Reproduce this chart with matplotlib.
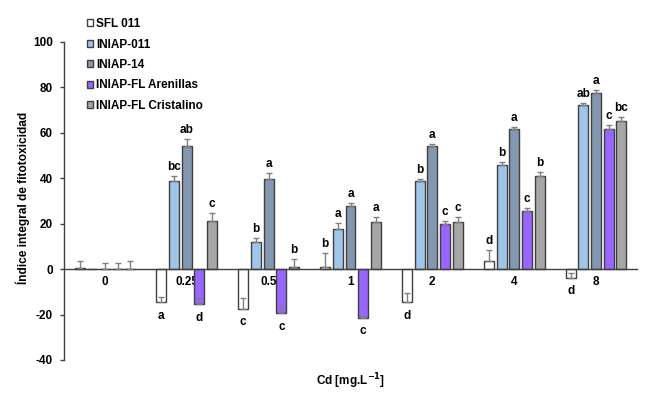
import matplotlib
matplotlib.use("Agg")
import matplotlib.pyplot as plt
import numpy as np

plt.rcParams['font.family'] = ['Liberation Sans', 'DejaVu Sans']
plt.rcParams['font.weight'] = 'bold'
plt.rcParams['axes.unicode_minus'] = False

categories = ["0", "0.25", "0.5", "1", "2", "4", "8"]
series = ["SFL 011", "INIAP-011", "INIAP-14", "INIAP-FL Arenillas", "INIAP-FL Cristalino"]

sfl = [0.5, -14.5, -17.5, 1.0, -14.5, 3.5, -3.7]
iniap011 = [0.0, 38.8, 11.8, 17.6, 38.8, 46.0, 72.3]
iniap14 = [0.0, 54.0, 39.5, 27.6, 54.3, 61.7, 77.5]
arenillas = [0.0, -15.5, -19.5, -21.3, 19.7, 25.8, 61.5]
cristalino = [0.0, 21.0, 0.8, 20.8, 20.8, 40.8, 65.0]

sfl_err = [3.0, 2.3, 5.0, 6.0, 4.0, 5.0, 2.0]
iniap011_err = [0.0, 2.0, 2.0, 2.5, 1.0, 1.0, 1.0]
iniap14_err = [2.5, 3.5, 3.0, 1.5, 1.0, 1.0, 1.5]
arenillas_err = [2.5, 2.8, 3.0, 0.5, 1.5, 1.0, 2.0]
cristalino_err = [3.5, 3.5, 3.5, 2.0, 2.0, 2.0, 2.0]

sfl_let = ["", "a", "c", "b", "d", "d", "d"]
iniap011_let = ["", "bc", "b", "a", "b", "b", "ab"]
iniap14_let = ["", "ab", "a", "a", "a", "a", "a"]
arenillas_let = ["", "d", "c", "c", "c", "c", "c"]
cristalino_let = ["", "c", "b", "a", "c", "b", "bc"]

colors = ["#ffffff", "#9fc5e8", "#8497b0", "#9966ff", "#a6a6a6"]

values = [sfl, iniap011, iniap14, arenillas, cristalino]
errors = [sfl_err, iniap011_err, iniap14_err, arenillas_err, cristalino_err]
letters = [sfl_let, iniap011_let, iniap14_let, arenillas_let, cristalino_let]

fig = plt.figure(figsize=(6.5, 3.93), dpi=100)
ax = fig.add_axes([64/650, 1-360/393, (637-64)/650, (360-42)/393])

x = np.arange(len(categories))
pitch = 0.155
width = 0.122
handles = []
for k, (vals, errs, lets, col, name) in enumerate(zip(values, errors, letters, colors, series)):
    pos = x + (k - 2) * pitch
    vals = np.array(vals)
    errs = np.array(errs)
    b = ax.bar(pos, vals, width, color=col, edgecolor="#404040", linewidth=1.0,
               label=name, zorder=2)
    handles.append(b)
    mask = errs > 0
    ax.errorbar(pos[mask], vals[mask], yerr=[np.zeros(mask.sum()), errs[mask]],
                fmt="none", ecolor="#808080", elinewidth=1.0, capsize=2.5,
                capthick=1.0, zorder=3)
    for p, v, e, t in zip(pos, vals, errs, lets):
        if not t:
            continue
        if v >= 0:
            ax.annotate(t, (p, v + e), xytext=(0, 3), textcoords="offset pixels",
                        ha="center", va="bottom", fontsize=8.5, fontweight="bold")
        else:
            ax.annotate(t, (p, v), xytext=(0, -13.5), textcoords="offset pixels",
                        ha="center", va="center", fontsize=8.5, fontweight="bold")

ax.set_xlim(-0.5, len(categories) - 0.5)
ax.set_ylim(-40, 100)
ax.set_yticks(np.arange(-40, 101, 20))
ax.tick_params(axis="y", direction="out", length=3, width=1, labelsize=8.5, pad=5, color="#404040")
ax.set_xticks(x)
ax.set_xticklabels(categories)
ax.tick_params(axis="x", length=0, labelsize=8.5, pad=5)

ax.spines["top"].set_visible(False)
ax.spines["right"].set_visible(False)
ax.spines["bottom"].set_position(("data", 0))
for s in ("left", "bottom"):
    ax.spines[s].set_color("#404040")
    ax.spines[s].set_linewidth(1.0)

ax.set_ylabel("Índice integral de fitotoxicidad", fontsize=8.6, fontweight="bold")
ax.yaxis.set_label_coords(-(64 - 30) / 573, 0.51)
ax.set_xlabel("Cd [mg.L$^{\\mathbf{-1}}$]", fontsize=8.5, fontweight="bold")
ax.xaxis.set_label_coords(0.5, -0.035)

leg = ax.legend(handles=handles, loc="upper left", bbox_to_anchor=(87/650, 1-18/393),
                bbox_transform=fig.transFigure, frameon=False, fontsize=8.5,
                handlelength=0.55, handleheight=0.55, handletextpad=0.2,
                labelspacing=0.72, borderpad=0, borderaxespad=0)
for t in leg.get_texts():
    t.set_fontweight("bold")

fig.savefig("out.png", dpi=100)
